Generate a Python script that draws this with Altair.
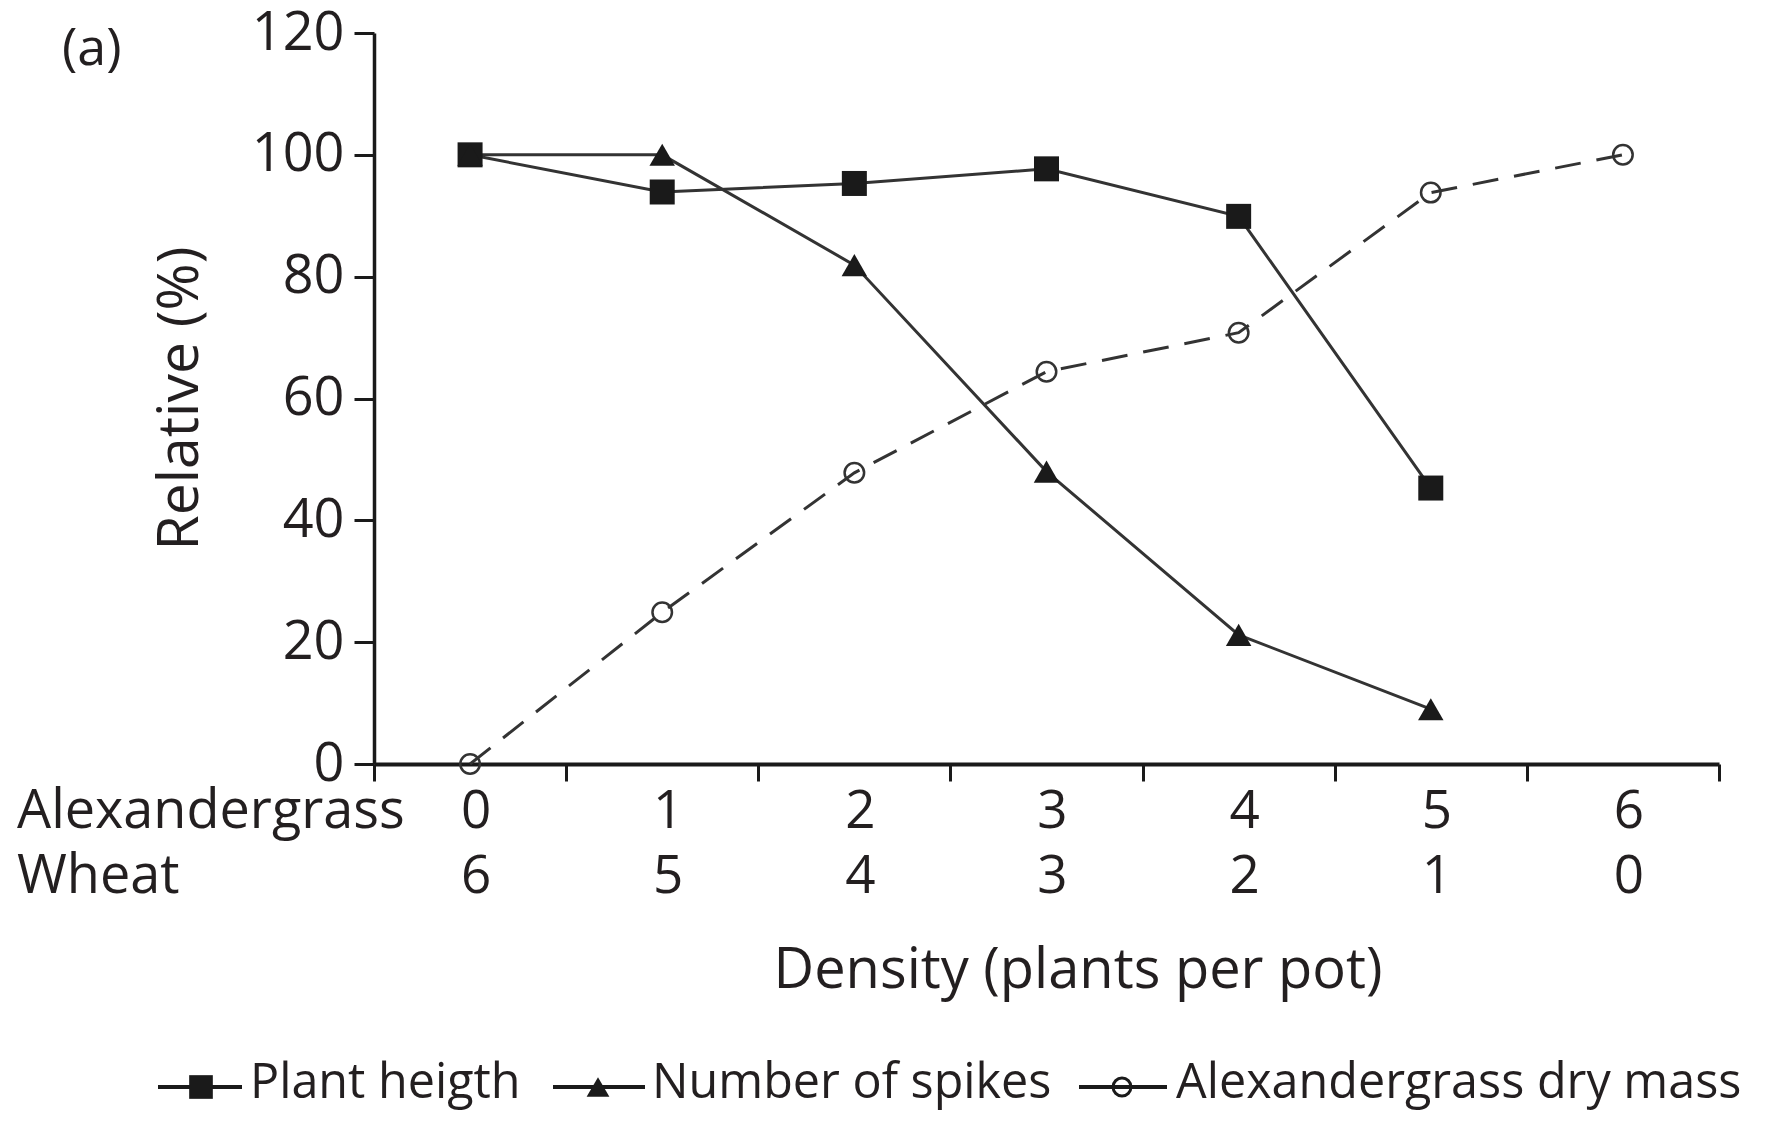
import altair as alt
import pandas as pd

# ---- data ----
alexandergrass = [0, 1, 2, 3, 4, 5, 6]
wheat = [6, 5, 4, 3, 2, 1, 0]
plant_height = [100.0, 93.9, 95.3, 97.7, 89.9, 45.3]        # densities 0..5
number_of_spikes = [100.0, 100.0, 81.9, 48.0, 21.2, 9.0]     # densities 0..5
dry_mass = [0.0, 24.9, 47.8, 64.4, 70.8, 93.8, 100.0]        # densities 0..6
y_ticks = [0, 20, 40, 60, 80, 100, 120]
row_titles = ["Alexandergrass", "Wheat"]
legend_labels = ["Plant heigth", "Number of spikes", "Alexandergrass dry mass"]
panel_label = "(a)"
x_title = "Density (plants per pot)"
y_title = "Relative (%)"

# band edges for the x ticks
x_edges = [k - 0.5 for k in alexandergrass] + [alexandergrass[-1] + 0.5]

FONT = "Open Sans"
INK = "#231f20"
LINE = "#333333"
W, H = 1345, 731

xscale = alt.Scale(domain=[x_edges[0], x_edges[-1]], nice=False, zero=False)
yscale = alt.Scale(domain=[0, 120], nice=False)
xaxis = alt.Axis(values=x_edges, labels=False, title=None, grid=False, ticks=True,
                 tickSize=17, tickWidth=3, tickColor="#1a1a1a",
                 domainWidth=4, domainColor="#1a1a1a")
yaxis = alt.Axis(values=y_ticks, title=y_title, grid=False, tickSize=20, tickWidth=3,
                 tickColor="#1a1a1a", domainWidth=3.5, domainColor="#1a1a1a",
                 labelFontSize=54, labelFont=FONT, labelColor=INK, labelPadding=10,
                 titleFontSize=57, titleFont=FONT, titleColor=INK, titleFontWeight="normal",
                 titleAngle=270, titleX=-194, titleY=365, titleBaseline="middle",
                 titleAlign="center")

X = alt.X("d:Q", scale=xscale, axis=xaxis)
Y = alt.Y("v:Q", scale=yscale, axis=yaxis)

ph = pd.DataFrame({"d": alexandergrass[:len(plant_height)], "v": plant_height})
sp = pd.DataFrame({"d": alexandergrass[:len(number_of_spikes)], "v": number_of_spikes})
dm = pd.DataFrame({"d": alexandergrass, "v": dry_mass})
rows = pd.DataFrame({"d": alexandergrass, "a": [str(v) for v in alexandergrass],
                     "w": [str(v) for v in wheat]})

line_ph = alt.Chart(ph).mark_line(color=LINE, strokeWidth=3).encode(x=X, y=Y)
line_sp = alt.Chart(sp).mark_line(color=LINE, strokeWidth=3).encode(x=X, y=Y)
line_dm = alt.Chart(dm).mark_line(color=LINE, strokeWidth=3, strokeDash=[26, 16]).encode(x=X, y=Y)

pt_ph = alt.Chart(ph).mark_point(shape="square", filled=True, size=625, color="#1a1a1a", opacity=1).encode(x=X, y=Y)
pt_sp = alt.Chart(sp).mark_point(shape="triangle-up", filled=True, size=650, color="#1a1a1a", opacity=1).encode(x=X, y=Y)
pt_dm = alt.Chart(dm).mark_point(shape="circle", filled=False, size=380, color="#333333",
                                 strokeWidth=2.5, opacity=1).encode(x=X, y=Y)

row_a = alt.Chart(rows).mark_text(font=FONT, fontSize=53, color=INK, baseline="alphabetic",
                                  align="center", dx=6).encode(x=X, y=alt.value(H + 64), text="a:N")
row_w = alt.Chart(rows).mark_text(font=FONT, fontSize=53, color=INK, baseline="alphabetic",
                                  align="center", dx=6).encode(x=X, y=alt.value(H + 129), text="w:N")

one = pd.DataFrame({"k": [0]})
head_a = alt.Chart(one).mark_text(text=row_titles[0], font=FONT, fontSize=54, color=INK,
                                  baseline="alphabetic", align="left").encode(x=alt.value(-357), y=alt.value(H + 64))
head_w = alt.Chart(one).mark_text(text=row_titles[1], font=FONT, fontSize=54, color=INK,
                                  baseline="alphabetic", align="left").encode(x=alt.value(-357), y=alt.value(H + 129))
xt = alt.Chart(one).mark_text(text=x_title, font=FONT, fontSize=56, color=INK,
                              baseline="alphabetic", align="center").encode(x=alt.value(704), y=alt.value(955))
pa = alt.Chart(one).mark_text(text=panel_label, font=FONT, fontSize=52, color=INK,
                              baseline="alphabetic", align="left").encode(x=alt.value(-312), y=alt.value(32))

# manual legend (line + marker + label)
leg_y = 1054
leg_text_y = 1065
leg_items = [
    (legend_labels[0], -216, -132, -173, -124, dict(shape="square", filled=True, size=560, color="#1a1a1a")),
    (legend_labels[1], 179, 271, 224, 278, dict(shape="triangle-up", filled=True, size=520, color="#1a1a1a")),
    (legend_labels[2], 705, 793, 748, 802, dict(shape="circle", filled=False, size=320, color="#1a1a1a",
                                                  strokeWidth=3)),
]
legend_layers = []
for lab, x1, x2, xc, xtx, sym in leg_items:
    legend_layers.append(alt.Chart(one).mark_rule(color="#1a1a1a", strokeWidth=4).encode(
        x=alt.value(x1), x2=alt.value(x2), y=alt.value(leg_y)))
    legend_layers.append(alt.Chart(one).mark_point(opacity=1, **sym).encode(
        x=alt.value(xc), y=alt.value(leg_y)))
    legend_layers.append(alt.Chart(one).mark_text(text=lab, font=FONT, fontSize=48.5, color=INK,
                                                  baseline="alphabetic", align="left").encode(
        x=alt.value(xtx), y=alt.value(leg_text_y)))

chart = alt.layer(
    line_ph, line_sp, line_dm, pt_ph, pt_sp, pt_dm,
    row_a, row_w, head_a, head_w, xt, pa, *legend_layers
).properties(
    width=W, height=H,
    autosize=alt.AutoSizeParams(type="none"),
    padding={"left": 366, "top": 25, "right": 38, "bottom": 350},
    background="white",
).configure_view(stroke=None)

chart.save("out.html", embed_options={"renderer": "svg", "actions": False})
